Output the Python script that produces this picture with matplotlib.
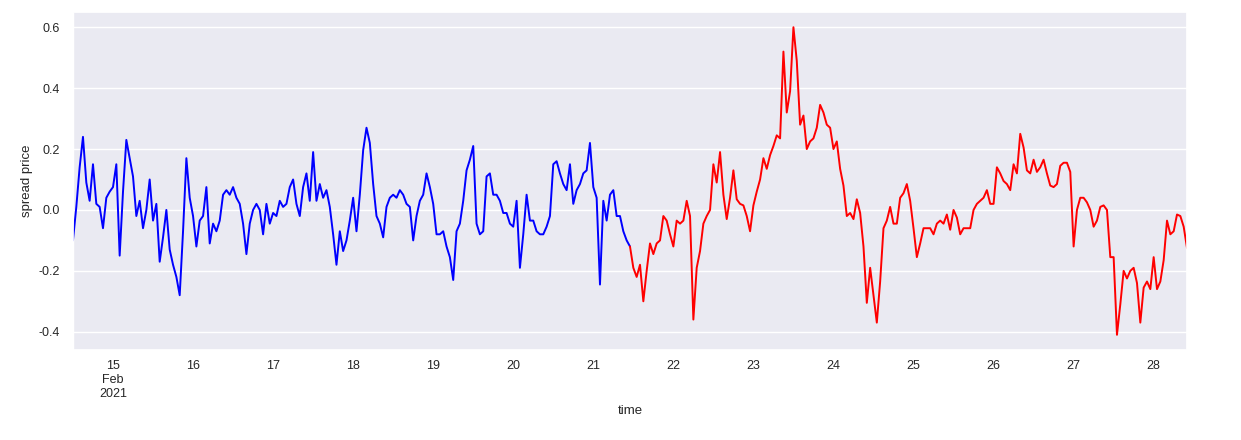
import numpy as np
import pandas as pd
import matplotlib
matplotlib.use("Agg")
import matplotlib.pyplot as plt
import seaborn as sns

# hourly spread values
train_start = "2021-02-14 12:00"
train_vals = [
    -0.10, 0.01, 0.14, 0.24, 0.09, 0.03, 0.15, 0.02, 0.01, -0.06,
    0.04, 0.06, 0.075, 0.15, -0.15, 0.06, 0.23, 0.17, 0.11, -0.02,
    0.03, -0.06, 0.0, 0.10, -0.035, 0.02, -0.17, -0.09, 0.0, -0.13,
    -0.18, -0.22, -0.28, -0.07, 0.17, 0.04, -0.02, -0.12, -0.035, -0.02,
    0.075, -0.11, -0.045, -0.07, -0.035, 0.05, 0.065, 0.05, 0.075, 0.04,
    0.02, -0.045, -0.145, -0.045, 0.0, 0.02, 0.0, -0.08, 0.02, -0.045,
    -0.01, -0.02, 0.03, 0.01, 0.02, 0.075, 0.10, 0.02, -0.02, 0.075,
    0.12, 0.03, 0.19, 0.03, 0.085, 0.04, 0.065, 0.01, -0.08, -0.18,
    -0.07, -0.135, -0.10, -0.035, 0.04, -0.07, 0.05, 0.196, 0.27, 0.22,
    0.085, -0.02, -0.045, -0.09, 0.01, 0.04, 0.05, 0.04, 0.065, 0.05,
    0.02, 0.01, -0.10, -0.02, 0.03, 0.05, 0.12, 0.075, 0.02, -0.08,
    -0.08, -0.07, -0.12, -0.155, -0.23, -0.07, -0.045, 0.03, 0.13, 0.165,
    0.21, -0.045, -0.08, -0.07, 0.11, 0.12, 0.05, 0.05, 0.03, -0.01,
    -0.01, -0.045, -0.055, 0.03, -0.19, -0.08, 0.05, -0.035, -0.035, -0.07,
    -0.08, -0.08, -0.055, -0.02, 0.15, 0.16, 0.12, 0.085, 0.065, 0.15,
    0.02, 0.065, 0.085, 0.12, 0.13, 0.22, 0.075, 0.04, -0.245, 0.03,
    -0.035, 0.05, 0.065, -0.02, -0.02, -0.07, -0.10, -0.12,
]

test_start = "2021-02-21 11:00"
test_vals = [
    -0.12, -0.19, -0.22, -0.18, -0.30, -0.20, -0.11, -0.145, -0.11, -0.10,
    -0.02, -0.035, -0.08, -0.12, -0.035, -0.045, -0.035, 0.03, -0.02, -0.36,
    -0.19, -0.135, -0.045, -0.02, 0.0, 0.15, 0.09, 0.19, 0.05, -0.03,
    0.04, 0.13, 0.035, 0.02, 0.015, -0.02, -0.07, 0.015, 0.06, 0.10,
    0.17, 0.135, 0.18, 0.21, 0.245, 0.235, 0.52, 0.32, 0.39, 0.60,
    0.49, 0.28, 0.31, 0.20, 0.225, 0.235, 0.27, 0.345, 0.32, 0.28,
    0.27, 0.20, 0.225, 0.135, 0.08, -0.02, -0.01, -0.03, 0.035, -0.01,
    -0.12, -0.305, -0.19, -0.28, -0.37, -0.235, -0.06, -0.035, 0.01, -0.045,
    -0.045, 0.04, 0.055, 0.085, 0.03, -0.06, -0.155, -0.11, -0.06, -0.06,
    -0.06, -0.08, -0.045, -0.035, -0.045, -0.015, -0.065, 0.0, -0.025, -0.08,
    -0.06, -0.06, -0.06, 0.0, 0.02, 0.03, 0.04, 0.065, 0.02, 0.02,
    0.14, 0.12, 0.095, 0.085, 0.065, 0.15, 0.12, 0.25, 0.205, 0.13,
    0.12, 0.165, 0.125, 0.14, 0.165, 0.12, 0.08, 0.075, 0.085, 0.145,
    0.155, 0.155, 0.125, -0.12, 0.0, 0.04, 0.04, 0.025, 0.0, -0.055,
    -0.035, 0.01, 0.015, 0.0, -0.155, -0.155, -0.41, -0.31, -0.20, -0.225,
    -0.20, -0.19, -0.24, -0.37, -0.255, -0.235, -0.26, -0.155, -0.26, -0.235,
    -0.165, -0.035, -0.08, -0.07, -0.015, -0.02, -0.055, -0.125,
]

train = pd.Series(train_vals,
                  index=pd.date_range(train_start, periods=len(train_vals), freq="h", name="time"))
test = pd.Series(test_vals,
                 index=pd.date_range(test_start, periods=len(test_vals), freq="h", name="time"))

sns.set_theme(style="darkgrid")
plt.rcParams["font.family"] = ["Liberation Sans", "DejaVu Sans"]
plt.rcParams["axes.unicode_minus"] = False

fig = plt.figure(figsize=(12.41, 4.40), dpi=100)
ax = fig.add_axes([0.0588, 0.2045, 0.8977, 0.7682])

train.plot(ax=ax, color="blue", lw=1.4)
test.plot(ax=ax, color="red", lw=1.4)

ax.set_ylim(-0.46, 0.65)
ax.set_yticks([-0.4, -0.2, 0.0, 0.2, 0.4, 0.6])
ax.set_ylabel("spread price", fontsize=9.5)
ax.set_xlabel("time", fontsize=9.5)
ax.tick_params(axis="both", which="both", labelsize=9)

fig.savefig("out.png", dpi=100)
